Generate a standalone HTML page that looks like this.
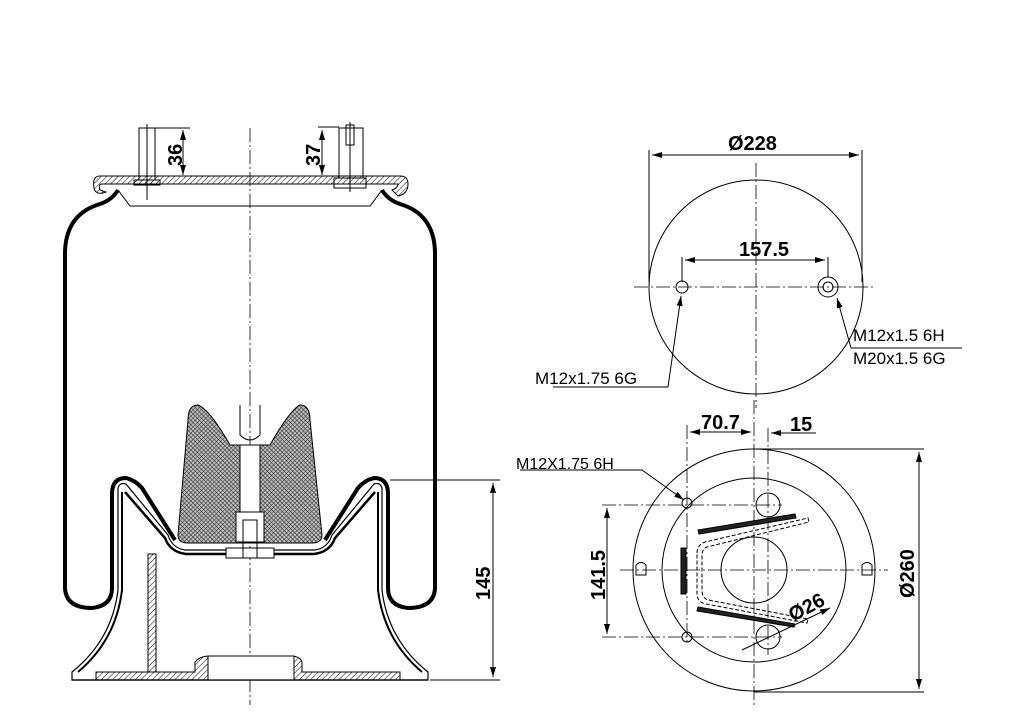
<!DOCTYPE html>
<html><head><meta charset="utf-8"><style>
html,body{margin:0;padding:0;background:#fff}
svg{display:block}
text{font-family:"Liberation Sans",Arial,sans-serif;fill:#000}
</style></head><body>
<svg width="1024" height="724" viewBox="0 0 1024 724" xmlns="http://www.w3.org/2000/svg">
<defs>
<pattern id="h" width="4" height="4" patternUnits="userSpaceOnUse" patternTransform="rotate(45)"><line x1="0" y1="0" x2="0" y2="4" stroke="#000" stroke-width="1"/></pattern>
<pattern id="x" width="3" height="3" patternUnits="userSpaceOnUse" patternTransform="rotate(45)"><rect width="3" height="3" fill="#bbb"/><path d="M0 0V3M0 0H3" stroke="#222" stroke-width="0.9"/></pattern>
<marker id="a" viewBox="0 0 10 6" refX="10" refY="3" markerWidth="10" markerHeight="6" orient="auto-start-reverse"><path d="M0 0L10 3L0 6z" fill="#000"/></marker>
</defs>
<g fill="none" stroke="#000" stroke-width="1">
<line x1="250" y1="128" x2="250" y2="705" stroke-dasharray="14 3 2 3" stroke-width="0.8"/>
<path d="M100 176 H400 Q408 176 408 184 Q408 194 398 196 L392 190 Q398 188 398 184 H102 Q98 184 100 190 L106 192 Q96 196 94 188 Q92 176 100 176z" fill="url(#h)"/>
<line x1="130" y1="206" x2="370" y2="206"/>
<rect x="139" y="128" width="16" height="52"/>
<rect x="134" y="180" width="26" height="5" fill="url(#h)"/>
<line x1="147" y1="124" x2="147" y2="200"/>
<rect x="339" y="128" width="24" height="50"/>
<rect x="346" y="125" width="8" height="20"/>
<line x1="350" y1="122" x2="350" y2="192"/>
<rect x="334" y="178" width="32" height="10"/>
<path d="M118 190 Q112 200 100 204 Q66 214 65 252 V588 Q66 608 92 608 Q112 606 112 588 V494 Q112 478 126 478 Q135 480 142 488 L175 540" stroke-width="4"/>
<path d="M382 190 Q388 200 400 204 Q434 214 435 252 V588 Q434 608 408 608 Q388 606 388 588 V494 Q388 478 374 478 Q365 480 358 488 L325 540" stroke-width="4"/>
<path d="M118 190 L130 206 H370 L382 190" stroke-width="1"/>
<path d="M118 488 Q120 482 126 484 L168 535 Q172 548 185 550 H315 Q328 548 332 535 L374 484 Q380 482 382 488 V590 Q388 640 428 672 V680 H72 V672 Q112 640 118 590z" stroke-width="1.2"/>
<path d="M122 492 V590 Q116 640 78 672" stroke-width="2"/>
<path d="M378 492 V590 Q384 640 422 672" stroke-width="2"/>
<path d="M125 492 L165 538 Q170 552 186 554 H314 Q330 552 335 538 L375 492" stroke-width="2.5"/>
<path d="M198 405 Q188 405 188 420 L178 535 Q178 543 188 543 H312 Q322 543 322 535 L310 420 Q310 405 300 405 Q290 410 270 445 H230 Q210 410 198 405z" fill="url(#x)"/>
<rect x="240" y="445" width="20" height="72" fill="#fff"/>
<path d="M240 405 V435 Q250 445 260 435 V405" />
<rect x="236" y="512" width="28" height="30" fill="#fff"/>
<rect x="226" y="548" width="48" height="10" fill="#fff"/>
<rect x="243" y="520" width="14" height="38"/>
<rect x="148" y="554" width="8" height="118" fill="url(#h)"/>
<path d="M96 672 H195 V662 Q200 656 210 656 H290 Q300 656 302 662 V672 H400 V680 H96z" fill="url(#h)"/>
<rect x="208" y="656" width="86" height="24" fill="#fff"/>
<line x1="72" y1="680" x2="428" y2="680" stroke-width="1.2"/>
<line x1="155" y1="128" x2="190" y2="128"/>
<line x1="183" y1="130" x2="183" y2="175" marker-start="url(#a)" marker-end="url(#a)"/>
<line x1="318" y1="127" x2="339" y2="127"/>
<line x1="322" y1="130" x2="322" y2="175" marker-start="url(#a)" marker-end="url(#a)"/>
<line x1="390" y1="480" x2="500" y2="480"/>
<line x1="430" y1="680" x2="500" y2="680"/>
<line x1="493" y1="483" x2="493" y2="677" marker-start="url(#a)" marker-end="url(#a)"/>

<circle cx="756" cy="287" r="107"/>
<line x1="756" y1="163" x2="756" y2="408" stroke-dasharray="14 3 2 3" stroke-width="0.8"/>
<line x1="634" y1="287" x2="873" y2="287" stroke-dasharray="14 3 2 3" stroke-width="0.8"/>
<line x1="649" y1="150" x2="649" y2="282"/>
<line x1="862" y1="150" x2="862" y2="282"/>
<line x1="652" y1="155" x2="859" y2="155" marker-start="url(#a)" marker-end="url(#a)"/>
<circle cx="682" cy="287" r="6"/>
<circle cx="828" cy="287" r="10"/><circle cx="828" cy="287" r="5"/>
<line x1="682" y1="257" x2="682" y2="282"/><line x1="828" y1="257" x2="828" y2="277"/>
<line x1="685" y1="260" x2="825" y2="260" marker-start="url(#a)" marker-end="url(#a)"/>
<path d="M553 387 H668 L681 296" marker-end="url(#a)"/>
<path d="M851 348 L837 298" marker-end="url(#a)"/>
<line x1="851" y1="348" x2="962" y2="348"/>

<circle cx="754" cy="570" r="121"/>
<circle cx="754" cy="570" r="92"/>
<circle cx="754" cy="570" r="33"/>
<line x1="754" y1="400" x2="754" y2="705" stroke-dasharray="14 3 2 3" stroke-width="0.8"/>
<line x1="620" y1="570" x2="888" y2="570" stroke-dasharray="14 3 2 3" stroke-width="0.8"/>
<line x1="768" y1="428" x2="768" y2="655" stroke-dasharray="14 3 2 3" stroke-width="0.8"/>
<line x1="687" y1="425" x2="687" y2="645" stroke-dasharray="14 3 2 3" stroke-width="0.8"/>
<line x1="602" y1="505" x2="782" y2="505" stroke-dasharray="14 3 2 3" stroke-width="0.8"/>
<line x1="602" y1="637" x2="782" y2="637" stroke-dasharray="14 3 2 3" stroke-width="0.8"/>
<circle cx="687" cy="503" r="5"/><circle cx="687" cy="637" r="5"/>
<circle cx="768" cy="505" r="12"/><circle cx="768" cy="637" r="12"/>
<path d="M636 565 Q641 560 646 565 V575 H636z"/>
<path d="M862 565 Q867 560 872 565 V575 H862z"/>
<path d="M697 553 Q697 545 705 542 L808 518 L809 522 L707 547 Q702 549 702 555 V590 Q702 598 708 600 L808 619 L807 623 L706 604 Q697 602 697 594z" stroke-dasharray="4 2"/>
<path d="M698 530 L795 514 L796 518 L699 534z M698 607 L795 624 L794 627 L697 611z" fill="#222"/>
<rect x="681" y="548" width="5" height="46" fill="#222"/>
<line x1="690" y1="432" x2="751" y2="432" marker-start="url(#a)" marker-end="url(#a)"/>
<line x1="771" y1="433" x2="816" y2="433" marker-start="url(#a)"/>
<line x1="754" y1="449" x2="924" y2="449"/>
<line x1="754" y1="692" x2="924" y2="692"/>
<line x1="919" y1="452" x2="919" y2="689" marker-start="url(#a)" marker-end="url(#a)"/>
<line x1="607" y1="508" x2="607" y2="634" marker-start="url(#a)" marker-end="url(#a)"/>
<path d="M520 470 H642 L684 500" marker-end="url(#a)"/>
<line x1="742" y1="650" x2="830" y2="608" marker-end="url(#a)"/>
</g>
<g font-size="20" font-weight="bold">
<text transform="translate(182,166) rotate(-90)">36</text>
<text transform="translate(320,166) rotate(-90)">37</text>
<text transform="translate(490,600) rotate(-90)">145</text>
<text x="728" y="150">Ø228</text>
<text x="739" y="256">157.5</text>
<text x="701" y="429">70.7</text>
<text x="790" y="431">15</text>
<text transform="translate(605,600) rotate(-90)">141.5</text>
<text transform="translate(914,598) rotate(-90)">Ø260</text>
<text transform="translate(793,622) rotate(-28)">Ø26</text>
</g>
<g font-size="17">
<text x="535" y="384">M12x1.75 6G</text>
<text x="853" y="341">M12x1.5 6H</text>
<text x="853" y="364">M20x1.5 6G</text>
<text x="516" y="469" font-size="16">M12X1.75 6H</text>
</g>
</svg>
</body></html>
